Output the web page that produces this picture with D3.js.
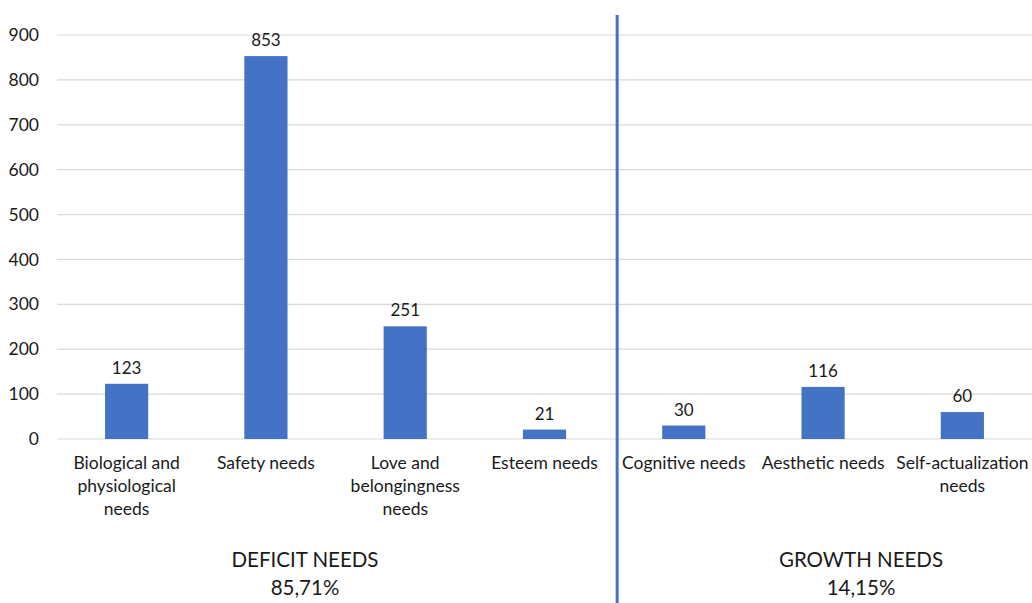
<!DOCTYPE html>
<html><head><meta charset="utf-8">
<script src="https://cdn.jsdelivr.net/npm/d3@7"></script>
<style>body{margin:0;background:#fff;} text{font-family:Lato,"Open Sans",sans-serif;fill:#1a1a1a;}</style>
</head><body><svg id="c" width="1032" height="603"></svg>
<script>
const categories = [["Biological and","physiological","needs"],["Safety needs"],["Love and","belongingness","needs"],["Esteem needs"],["Cognitive needs"],["Aesthetic needs"],["Self-actualization","needs"]];
const values = [123, 853, 251, 21, 30, 116, 60];
const yTicks = [0,100,200,300,400,500,600,700,800,900];
const groupNames = ["DEFICIT NEEDS","GROWTH NEEDS"];
const groupPercents = ["85,71%","14,15%"];
const groupLabelX = [305, 861];

(function(){
const svg = d3.select("#c");
const mLeft = 57, mRight = 1032, mTop = 35, mBottom = 439;
const x = d3.scaleBand().domain(d3.range(values.length)).range([mLeft, mRight]).paddingInner(0.69).paddingOuter(0.345);
const y = d3.scaleLinear().domain([0,900]).range([mBottom, mTop]);

svg.append("g").selectAll("line").data(yTicks).join("line")
  .attr("x1", mLeft).attr("x2", mRight).attr("y1", d=>y(d)).attr("y2", d=>y(d))
  .attr("stroke", "#d9d9d9").attr("stroke-width", 1.2);

svg.append("g").selectAll("text").data(yTicks).join("text")
  .attr("x", 39).attr("y", d=>y(d)).attr("dy","0.35em").attr("text-anchor","end")
  .attr("font-size", 17.5).text(d=>d);

svg.append("g").selectAll("rect").data(values).join("rect")
  .attr("x", (d,i)=>x(i)).attr("width", x.bandwidth())
  .attr("y", d=>y(d)).attr("height", d=>mBottom - y(d)).attr("fill", "#4472C4");

svg.append("g").selectAll("text").data(values).join("text")
  .attr("x", (d,i)=>x(i)+x.bandwidth()/2).attr("y", d=>y(d)-10).attr("text-anchor","middle")
  .attr("font-size", 17).text(d=>d);

const cat = svg.append("g").selectAll("text").data(categories).join("text")
  .attr("text-anchor","middle").attr("font-size", 17.5);
cat.each(function(lines, i){
  d3.select(this).selectAll("tspan").data(lines).join("tspan")
    .attr("x", x(i)+x.bandwidth()/2).attr("y", (l,j)=>469 + j*23).text(l=>l);
});

const divX = (x(3)+x.bandwidth() + x(4))/2 + 3;
svg.append("line").attr("x1", divX).attr("x2", divX).attr("y1", 15).attr("y2", 603)
  .attr("stroke", "#4472C4").attr("stroke-width", 3);

groupNames.forEach((g,k)=>{
  const cx = groupLabelX[k];
  svg.append("text").attr("x", cx).attr("y", 567).attr("text-anchor","middle").attr("font-size", 20.5).text(g);
  svg.append("text").attr("x", cx).attr("y", 595).attr("text-anchor","middle").attr("font-size", 20.5).text(groupPercents[k]);
});
})();
</script></body></html>
